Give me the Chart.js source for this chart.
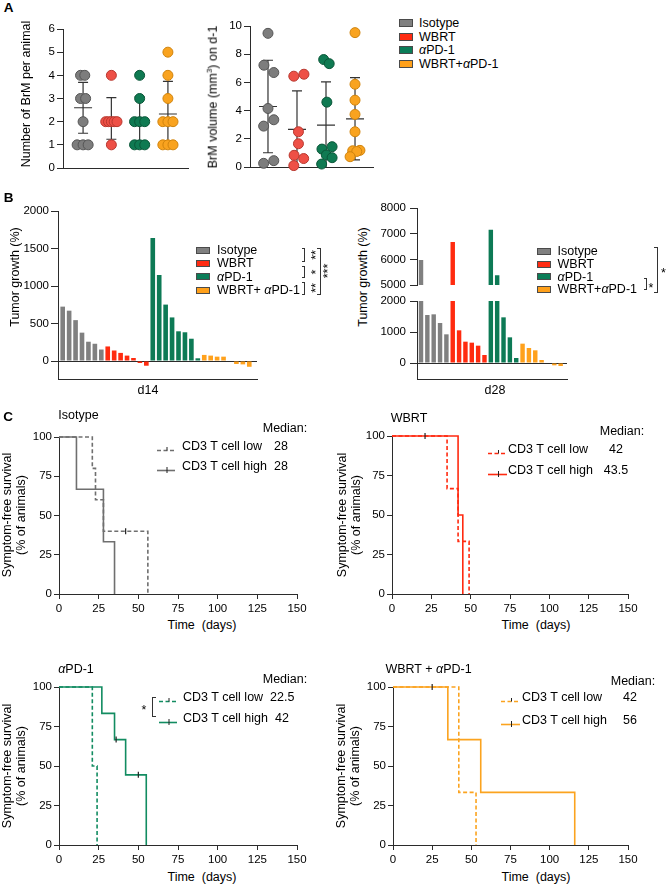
<!DOCTYPE html>
<html>
<head>
<meta charset="utf-8">
<title>BrM figure</title>
<script src="https://cdn.jsdelivr.net/npm/chart.js"></script>
<style>
  body { margin: 0; background: #fff; }
  #fig { position: relative; width: 667px; height: 887px; overflow: hidden;
         font-family: 'Liberation Sans', Arial, Helvetica, sans-serif; color: #000; }
  #fig canvas { position: absolute; }
  .t { position: absolute; white-space: nowrap; font-size: 12.5px; line-height: 1; }
  .box { position: absolute; box-sizing: border-box; border: 1px solid #4a4a4a; }
  .br { position: absolute; box-sizing: border-box; border: 1px solid #333; }
</style>
</head>
<body>
<div id="fig"></div>
<script>
// ---------- data ----------
const groups = ['Isotype', 'WBRT', 'αPD-1', 'WBRT+αPD-1'];

// A: number of BrM per animal
const brmCount = [
  [4, 4, 3, 3, 2, 1, 1, 1],
  [4, 2, 2, 2, 2, 2, 1],
  [4, 3, 2, 2, 2, 1, 1, 1],
  [5, 4, 3, 2, 2, 2, 1, 1, 1]
];
const brmCountJit = [
  [-0.09, 0.06, -0.09, 0.09, 0, -0.21, 0, 0.18],
  [0, -0.2, -0.1, 0, 0.1, 0.2, 0],
  [0, 0, -0.18, 0, 0.18, -0.18, 0, 0.18],
  [0, 0, 0, -0.18, 0, 0.18, -0.18, 0, 0.18]
];
const brmCountMean = [2.6, 2.14, 2.0, 2.33];
const brmCountSd = [1.1, 0.9, 1.07, 1.41];
const countTicks = [0, 1, 2, 3, 4, 5, 6];

// A: BrM volume on d-1
const brmVol = [
  [9.48, 7.22, 6.7, 4.15, 3.35, 2.9, 0.45, 0.26],
  [6.58, 6.44, 2.5, 1.65, 0.83, 0.6, 0.1],
  [7.62, 7.33, 4.6, 1.44, 1.27, 0.85, 0.66, 0.21],
  [9.53, 5.87, 4.74, 3.73, 2.5, 1.18, 1.15, 1.1, 0.73]
];
const brmVolJit = [
  [0, -0.14, 0.2, 0, 0.2, -0.15, 0.2, -0.15],
  [0.24, -0.11, 0.05, 0.05, -0.1, 0.23, -0.11],
  [-0.08, 0.11, 0.03, 0.21, -0.14, 0.01, 0.21, -0.15],
  [0, 0, 0, 0, 0, 0.17, -0.08, 0.06, -0.17]
];
const brmVolMean = [4.29, 2.67, 2.97, 3.42];
const brmVolSd = [3.28, 2.73, 3.07, 2.92];
const volTicks = [0, 2, 4, 6, 8, 10];

// B: tumor growth waterfall (%)
const isoD14 = [725, 671, 545, 378, 257, 230, 153];
const wbrtD14 = [194, 140, 108, 72, 40, -27, -63];
const pd1D14 = [1640, 1147, 752, 581, 396, 383, 297, 36];
const comboD14 = [81, 72, 58, 58, 0, -40, -45, -77];
const isoD28 = [5980, 1548, 1570, 1290, 925];
const wbrtD28 = [6680, 1054, 688, 656, 559, 258];
const pd1D28 = [7150, 5380, 1473, 828, 161];
const comboD28 = [624, 484, 409, 97, 0, -75, -97];
const d14Ticks = [0, 500, 1000, 1500, 2000];
const d28HiTicks = [5000, 6000, 7000, 8000];
const d28LoTicks = [0, 1000, 2000];

// C: symptom-free survival (time in days, % of animals)
const isoLowT = [0, 21, 23, 28, 56],   isoLowS = [100, 80, 60, 40, 0];
const isoHighT = [0, 11, 28, 35],      isoHighS = [100, 66.7, 33.3, 0];
const isoCensT = [42],                 isoCensS = [40];
const wbrtLowT = [0, 35, 42, 49],      wbrtLowS = [100, 66.7, 33.3, 0];
const wbrtHighT = [0, 42, 45],         wbrtHighS = [100, 50, 0];
const wbrtCensT = [21],                wbrtCensS = [100];
const pd1LowT = [0, 21, 24],           pd1LowS = [100, 50, 0];
const pd1HighT = [0, 27, 35, 42, 55],  pd1HighS = [100, 83.3, 66.7, 44.4, 0];
const pd1CensT = [36, 50],             pd1CensS = [66.7, 44.4];
const comboLowT = [0, 42, 53],         comboLowS = [100, 33.3, 0];
const comboHighT = [0, 35, 56, 116],   comboHighS = [100, 66.7, 33.3, 0];
const comboCensT = [25],               comboCensS = [100];
const medians = [['28', '28'], ['42', '43.5'], ['22.5', '42'], ['42', '56']];
const survTicks = [0, 25, 50, 75, 100];
const timeTicks = [0, 25, 50, 75, 100, 125, 150];

// ---------- styles ----------
const AXIS = '#2b2b2b';
const dotFill = ['#7d7d7d', '#ee5046', '#0f7a52', '#f9a31f'];
const dotEdge = ['#555555', '#b8382f', '#0a5638', '#cf830d'];
const boxFill = ['#808080', '#ff2b12', '#0b7d58', '#ffa01a'];
const barFill = ['#808080', '#ff2b0f', '#0d7a55', '#ffa11c'];
const kmColor = ['#6f6f6f', '#ff2a10', '#128c61', '#fba31f'];

Chart.defaults.font.family = "'Liberation Sans', Arial, Helvetica, sans-serif";
Chart.defaults.font.size = 11.5;
Chart.defaults.color = '#000';
Chart.defaults.animation = false;

const fig = document.getElementById('fig');

function mount(a, p) {
  const c = document.createElement('canvas');
  const w = a.r - a.l + p.l + p.r, h = a.b - a.t + p.t + p.b;
  c.width = w; c.height = h;
  c.style.left = (a.l - p.l) + 'px'; c.style.top = (a.t - p.t) + 'px';
  c.style.width = w + 'px'; c.style.height = h + 'px';
  fig.appendChild(c);
  return c;
}

function yScale(min, max, ticks, p, o) {
  return {
    type: 'linear', min, max,
    afterFit: s => { s.width = p.l; },
    afterBuildTicks: s => { s.ticks = ticks.map(v => ({ value: v })); },
    grid: {
      drawOnChartArea: !!o.zero,
      color: c => (o.zero && c.tick && c.tick.value === 0) ? AXIS : 'rgba(0,0,0,0)',
      tickColor: AXIS, tickLength: o.tl, lineWidth: 1
    },
    border: { color: AXIS, width: 1 },
    ticks: { padding: o.tp, autoSkip: false, callback: v => String(v) }
  };
}

function xScale(min, max, ticks, p, o) {
  const s = {
    type: 'linear', min, max, offset: false,
    afterFit: sc => { sc.height = p.b; },
    grid: { display: !!ticks, drawOnChartArea: false, tickColor: AXIS, tickLength: 5, offset: false },
    border: { display: o.border !== false, color: AXIS, width: 1 },
    ticks: { display: !!ticks, padding: 3, autoSkip: false, maxRotation: 0, callback: v => String(v) }
  };
  if (ticks) s.afterBuildTicks = sc => { sc.ticks = ticks.map(v => ({ value: v })); };
  return s;
}

function baseOpts(p, x, y, plugins) {
  return {
    responsive: false, animation: false,
    layout: { padding: { top: p.t, right: p.r, left: 0, bottom: 0 } },
    scales: { x, y },
    plugins: Object.assign({ legend: { display: false }, tooltip: { enabled: false } }, plugins || {})
  };
}

// mean +/- SD bars for the dot plots
const errBars = {
  id: 'errBars',
  beforeDatasetsDraw(chart, args, o) {
    const { ctx, scales: { x, y }, chartArea: ca } = chart;
    ctx.save();
    ctx.beginPath(); ctx.rect(ca.left, ca.top - 3, ca.width, ca.height + 3); ctx.clip();
    ctx.strokeStyle = '#333'; ctx.lineWidth = 1.2;
    o.mean.forEach((m, i) => {
      const px = x.getPixelForValue(i);
      const pm = y.getPixelForValue(m);
      const pu = y.getPixelForValue(m + o.sd[i]);
      const pl = y.getPixelForValue(m - o.sd[i]);
      ctx.beginPath();
      ctx.moveTo(px - 9, pm); ctx.lineTo(px + 9, pm);
      ctx.moveTo(px - 5, pu); ctx.lineTo(px + 5, pu);
      ctx.moveTo(px - 5, pl); ctx.lineTo(px + 5, pl);
      ctx.moveTo(px, pu); ctx.lineTo(px, pl);
      ctx.stroke();
    });
    ctx.restore();
  }
};

function dotSets(vals, jit) {
  return vals.map((arr, g) => ({
    data: arr.map((v, i) => ({ x: g + jit[g][i], y: v })),
    backgroundColor: dotFill[g], borderColor: dotEdge[g],
    pointRadius: 5, pointBorderWidth: 1, clip: 8
  }));
}

function dotChart(a, p, xmin, xmax, vals, jit, ymax, ticks, mean, sd) {
  new Chart(mount(a, p), {
    type: 'scatter',
    data: { datasets: dotSets(vals, jit) },
    options: baseOpts(p,
      xScale(xmin, xmax, null, p, {}),
      yScale(0, ymax, ticks, p, { tl: 6, tp: 2 }),
      { errBars: { mean, sd } }),
    plugins: [errBars]
  });
}

function barSets(groupVals, pct) {
  let i = 0;
  return groupVals.map((vals, g) => ({
    data: vals.map(v => ({ x: i++, y: v })),
    backgroundColor: barFill[g], borderWidth: 0,
    grouped: false, categoryPercentage: 1, barPercentage: pct, clip: 0
  }));
}

function barChart(a, p, xmin, xmax, groupVals, pct, ymin, ymax, ticks, o) {
  new Chart(mount(a, p), {
    type: 'bar',
    data: { datasets: barSets(groupVals, pct) },
    options: baseOpts(p,
      xScale(xmin, xmax, null, p, { border: o.xAxis }),
      yScale(ymin, ymax, ticks, p, { tl: 7, tp: o.tp, zero: o.zero }))
  });
}

function kmChart(a, p, lowT, lowS, highT, highS, censT, censS, color) {
  const pts = (t, s) => t.map((v, i) => ({ x: v, y: s[i] }));
  new Chart(mount(a, p), {
    type: 'line',
    data: { datasets: [
      { data: pts(censT, censS), showLine: false, pointStyle: 'line', rotation: 90,
        pointRadius: 3, pointBorderColor: '#222', pointBorderWidth: 1.2, clip: 6 },
      { data: pts(highT, highS), stepped: true, borderColor: color, borderWidth: 1.6,
        pointRadius: 0, clip: 4 },
      { data: pts(lowT, lowS), stepped: true, borderColor: color, borderWidth: 1.6,
        borderDash: [4, 2.5], pointRadius: 0, clip: 4 }
    ] },
    options: baseOpts(p,
      xScale(0, 150, timeTicks, p, {}),
      yScale(0, 100, survTicks, p, { tl: 5, tp: 2 }))
  });
}

// ---------- html text helpers ----------
function fmt(s) { return s.replace(/α/g, '<i>α</i>'); }
function txt(x, y, html, o) {
  o = o || {};
  const d = document.createElement('div');
  d.className = 't';
  d.innerHTML = html;
  d.style.left = x + 'px'; d.style.top = y + 'px';
  const ax = o.align === 'left' ? '0' : o.align === 'right' ? '-100%' : '-50%';
  d.style.transform = 'translate(' + ax + ',-50%)' + (o.rot ? ' rotate(' + o.rot + 'deg)' : '');
  if (o.size) d.style.fontSize = o.size + 'px';
  if (o.bold) d.style.fontWeight = 'bold';
  if (o.lh) { d.style.lineHeight = o.lh + 'px'; d.style.textAlign = 'center'; }
  fig.appendChild(d);
}
function boxLegend(x, ys, w, h, tx, labels) {
  labels.forEach((l, i) => {
    const b = document.createElement('div');
    b.className = 'box';
    b.style.left = x + 'px'; b.style.top = (ys[i] - h / 2) + 'px';
    b.style.width = w + 'px'; b.style.height = h + 'px';
    b.style.background = boxFill[i];
    fig.appendChild(b);
    txt(tx, ys[i], fmt(l), { align: 'left' });
  });
}
function bracket(x, y1, y2, w, side) {
  const d = document.createElement('div');
  d.className = 'br';
  d.style.left = (side === 'r' ? x - w : x) + 'px';
  d.style.top = y1 + 'px'; d.style.width = w + 'px'; d.style.height = (y2 - y1) + 'px';
  d.style[side === 'r' ? 'borderLeft' : 'borderRight'] = 'none';
  fig.appendChild(d);
}
function sample(x0, w, y, color, dashed) {
  const d = document.createElement('div');
  d.style.cssText = 'position:absolute;left:' + x0 + 'px;top:' + (y - 5) + 'px;width:' + w + 'px;height:10px';
  d.innerHTML = '<svg width="' + w + '" height="10"><line x1="0" y1="5.5" x2="' + w + '" y2="5.5" stroke="' + color +
    '" stroke-width="1.6"' + (dashed ? ' stroke-dasharray="4 2.5"' : '') + '/><line x1="' + (w / 2 + 1) +
    '" y1="2" x2="' + (w / 2 + 1) + '" y2="' + (dashed ? 5.5 : 8) + '" stroke="#222" stroke-width="1"/></svg>';
  fig.appendChild(d);
}
function kmLegend(g, sx, sw, tx, ys, medX, medAlign, medHead) {
  sample(sx, sw, ys[0], kmColor[g], true);
  sample(sx, sw, ys[1], kmColor[g], false);
  txt(tx, ys[0], 'CD3 T cell low', { align: 'left' });
  txt(tx, ys[1], 'CD3 T cell high', { align: 'left' });
  txt(medX[0], ys[0], medians[g][0], { align: medAlign });
  txt(medX[1], ys[1], medians[g][1], { align: medAlign });
  txt(medHead[0], medHead[1], 'Median:');
}

// ---------- panel A ----------
txt(8.5, 8, 'A', { bold: true, size: 13.5 });
dotChart({ l: 63, r: 188, t: 29, b: 168 }, { l: 40, r: 6, t: 12, b: 12 }, -0.71, 3.71,
  brmCount, brmCountJit, 6, countTicks, brmCountMean, brmCountSd);
dotChart({ l: 250, r: 373, t: 26, b: 167 }, { l: 40, r: 6, t: 12, b: 12 }, -0.62, 3.62,
  brmVol, brmVolJit, 10, volTicks, brmVolMean, brmVolSd);
txt(26, 94, 'Number of BrM per animal', { rot: -90 });
txt(213, 97, 'BrM volume (mm<span style="font-size:8px;position:relative;top:-5px">3</span>) on d-1', { rot: -90 });
boxLegend(399, [23, 36.5, 50, 63.5], 14, 8, 419, groups);

// ---------- panel B ----------
txt(8.5, 198, 'B', { bold: true, size: 13.5 });
barChart({ l: 58, r: 257, t: 211, b: 379 }, { l: 45, r: 4, t: 12, b: 12 }, -0.73, 30.2,
  [isoD14, wbrtD14, pd1D14, comboD14], 0.72, -240, 2000, d14Ticks, { tp: 2, zero: true });
barChart({ l: 417, r: 567, t: 208, b: 286 }, { l: 45, r: 4, t: 12, b: 10 }, -0.63, 23.0,
  [isoD28, wbrtD28, pd1D28, comboD28], 0.7, 5000, 8000, d28HiTicks, { tp: 4, xAxis: false });
barChart({ l: 417, r: 567, t: 301, b: 379 }, { l: 45, r: 4, t: 12, b: 12 }, -0.63, 23.0,
  [isoD28, wbrtD28, pd1D28, comboD28], 0.7, -516, 2000, d28LoTicks, { tp: 4, zero: true });
txt(15, 277, 'Tumor growth (%)', { rot: -90 });
txt(363, 277, 'Tumor growth (%)', { rot: -90 });
txt(148, 390, 'd14');
txt(495, 390, 'd28');
boxLegend(196, [250, 263.3, 276.7, 290], 14, 7, 217, ['Isotype', 'WBRT', 'αPD-1', 'WBRT+ αPD-1']);
boxLegend(537, [251, 264, 276.7, 289], 13.5, 7, 557.5, groups);
bracket(305, 248.3, 261.7, 3.5, 'r');
bracket(305, 265.7, 278.3, 3.5, 'r');
bracket(305, 281.7, 295, 3.5, 'r');
bracket(320.7, 248, 295, 3.5, 'r');
txt(315.5, 255, '**', { rot: -90 });
txt(315.5, 272, '*', { rot: -90 });
txt(315.5, 288, '**', { rot: -90 });
txt(328, 271, '***', { rot: -90 });
bracket(647, 278.3, 290, 3.5, 'r');
bracket(657.7, 246.7, 293.3, 3.5, 'r');
txt(651, 287.5, '*');
txt(663.5, 272.5, '*');

// ---------- panel C ----------
txt(8, 417, 'C', { bold: true, size: 13.5 });
const kmPad = { l: 40, r: 14, t: 12, b: 22 };
kmChart({ l: 59, r: 297, t: 437, b: 594 }, kmPad, isoLowT, isoLowS, isoHighT, isoHighS, isoCensT, isoCensS, kmColor[0]);
kmChart({ l: 392, r: 628, t: 436, b: 594 }, kmPad, wbrtLowT, wbrtLowS, wbrtHighT, wbrtHighS, wbrtCensT, wbrtCensS, kmColor[1]);
kmChart({ l: 59, r: 297, t: 687, b: 845 }, kmPad, pd1LowT, pd1LowS, pd1HighT, pd1HighS, pd1CensT, pd1CensS, kmColor[2]);
kmChart({ l: 393, r: 628, t: 687, b: 845 }, kmPad, comboLowT, comboLowS, comboHighT, comboHighS, comboCensT, comboCensS, kmColor[3]);

txt(78.5, 415, 'Isotype');
txt(409, 418, 'WBRT');
txt(76, 669, fmt('αPD-1'));
txt(428.5, 669, fmt('WBRT + αPD-1'));
const surv = 'Symptom-free survival<br>(% of animals)';
txt(14, 515, surv, { rot: -90, lh: 14 });
txt(349, 515, surv, { rot: -90, lh: 14 });
txt(14, 766, surv, { rot: -90, lh: 14 });
txt(348, 766, surv, { rot: -90, lh: 14 });
txt(202, 625, 'Time&nbsp; (days)');
txt(536, 625, 'Time&nbsp; (days)');
txt(202, 877, 'Time&nbsp; (days)');
txt(536, 877, 'Time&nbsp; (days)');

kmLegend(0, 157, 18, 182, [446, 466], [274, 274], 'left', [285, 428]);
kmLegend(1, 488, 19, 508, [449, 470], [616, 616], 'center', [622, 431]);
kmLegend(2, 159, 18, 183, [697.3, 718], [270, 275], 'left', [285, 679]);
kmLegend(3, 501, 19, 522, [697.3, 720], [630, 630], 'center', [633, 681]);
bracket(151.7, 697, 717, 4, 'l');
txt(144, 709.5, '*');
</script>
</body>
</html>
